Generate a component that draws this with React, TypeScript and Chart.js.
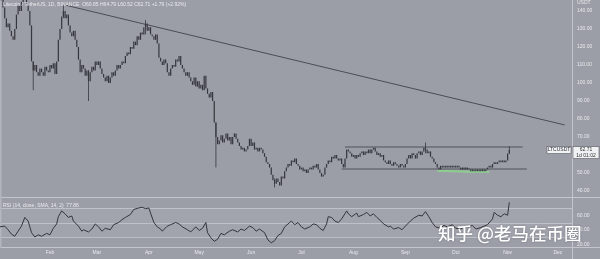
import { useEffect, useRef } from 'react';
import { Chart, registerables } from 'chart.js';

Chart.register(...registerables);

const FONT = '"Liberation Sans", Arial, sans-serif';
const BG = '#9b9ea7';
const CANDLE = '#35373d';
const LIGHT_TEXT = '#e9eaed';

// ---- data ----
const FIRST_DAY = 1; // day index of first candle (Jan 2, 2022)
const FIRST_OPEN = 148;
const closes = [
  146, 147, 142, 136, 131, 133, 129, 126, 124, 130,
  138, 143, 140, 145, 148, 147, 144, 140, 132, 112,
  107, 110, 106, 104, 108, 106, 104, 109, 107, 106,
  110, 108, 111, 105, 112, 124, 130, 137, 140, 136,
  138, 132, 128, 126, 129, 124, 120, 113, 106, 110,
  108, 104, 107, 101, 106, 109, 107, 112, 110, 112,
  108, 105, 103, 101, 104, 100, 103, 106, 104, 107,
  110, 108, 110, 112, 111, 115, 117, 116, 120, 119,
  123, 121, 126, 124, 128, 127, 131, 133, 129, 131,
  127, 126, 124, 127, 122, 114, 112, 110, 113, 111,
  106, 104, 108, 110, 109, 113, 112, 115, 110, 108,
  106, 104, 106, 103, 101, 99, 103, 98, 101, 97,
  99, 96, 104, 97, 94, 92, 95, 90, 78, 70,
  66, 68, 71, 67, 69, 72, 68, 70, 66, 70,
  72, 69, 67, 65, 63, 64, 62, 63, 65, 69,
  65, 67, 63, 64, 62, 64, 63, 61, 59, 56,
  55, 53, 49, 46, 44, 47, 45, 43, 48, 47,
  51, 53, 55, 54, 57, 56, 58, 55, 54, 52,
  53, 51, 52, 50, 52, 53, 52, 54, 53, 55,
  52, 50, 48, 49, 53, 55, 57, 56, 59, 58,
  60, 58, 57, 58, 55, 53, 58, 63, 62, 61,
  59, 60, 58, 60, 59, 61, 62, 60, 62, 61,
  63, 61, 63, 64, 62, 60, 61, 59, 60, 57,
  56, 55, 57, 55, 54, 56, 55, 54, 53, 55,
  54, 53, 55, 58, 60, 58, 61, 60, 58, 61,
  62, 60, 62, 64, 63, 61, 62, 59, 58, 56,
  55, 53, 52, 54, 53, 54, 53, 54, 53, 54,
  53, 54, 53, 54, 53, 52, 53, 52, 53, 52,
  52, 51, 52, 51, 52, 51, 52, 51, 52, 51,
  52, 53, 54, 53, 55, 56, 55, 56, 57, 56,
  57, 56, 57, 60.85, 62.71,
];

const wickDays = [21, 39, 54, 88, 130, 165, 255, 305];
const wickLows = [96, 136, 90, 127, 53, 42, 61, 60.5];
const wickHighs = [112, 143, 107, 135, 78, 47, 67, 64.8];

const trendDays = [40, 338];
const trendPrices = [143.3, 76.7];
const channelTopDays = [207, 313];
const channelTopPrices = [64.4, 64.4];
const channelBottomDays = [205, 315.5];
const channelBottomPrices = [52.2, 52.2];
const greenDays = [262, 276, 293];
const greenPrices = [51.3, 50.8, 50.6];

const rsiDays = [
  1, 4, 6, 8, 10, 12, 14, 16, 18, 20,
  22, 24, 26, 29, 31, 33, 35, 36, 38, 40,
  42, 44, 45, 48, 50, 51, 54, 56, 58, 60,
  62, 64, 67, 69, 72, 74, 76, 79, 81, 84,
  86, 88, 90, 91, 93, 95, 97, 98, 101, 103,
  106, 108, 110, 113, 115, 118, 120, 122, 124, 125,
  127, 129, 131, 133, 135, 138, 140, 143, 145, 147,
  150, 152, 154, 156, 159, 161, 163, 165, 167, 169,
  171, 174, 175, 177, 179, 181, 183, 186, 188, 190,
  192, 194, 196, 197, 199, 201, 203, 205, 208, 209,
  211, 214, 215, 218, 220, 222, 224, 226, 228, 230,
  233, 234, 236, 239, 241, 243, 246, 248, 251, 253,
  255, 257, 259, 261, 264, 266, 268, 271, 273, 276,
  278, 280, 283, 285, 288, 290, 292, 295, 296, 298,
  300, 302, 304, 305,
];
const rsiValues = [
  44, 45, 40, 34, 31, 38, 45, 57, 52, 36,
  30, 33, 31, 35, 33, 42, 48, 58, 66, 62,
  57, 59, 52, 45, 38, 40, 37, 41, 48, 44,
  38, 42, 40, 47, 50, 54, 57, 61, 68, 70,
  71, 69, 70, 63, 50, 44, 41, 38, 45, 47,
  50, 48, 44, 40, 37, 44, 39, 42, 50, 36,
  29, 24, 27, 35, 33, 38, 40, 37, 41, 39,
  45, 43, 38, 41, 36, 26, 22, 25, 32, 35,
  44, 50, 52, 47, 50, 44, 41, 44, 48, 47,
  42, 39, 48, 58, 57, 52, 50, 55, 66, 62,
  58, 63, 58, 61, 64, 59, 62, 57, 53, 48,
  44, 45, 41, 43, 40, 45, 52, 56, 60, 59,
  65, 58, 50, 44, 42, 46, 44, 47, 42, 41,
  44, 43, 46, 41, 43, 45, 47, 55, 64, 60,
  58, 62, 60, 77.86,
];

const monthDays = [31, 59, 90, 120, 151, 181, 212, 243, 273, 304, 334];
const monthLabels = ['Feb', 'Mar', 'Apr', 'May', 'Jun', 'Jul', 'Aug', 'Sep', 'Oct', 'Nov', 'Dec'];
const priceTicks = [40, 50, 60, 70, 80, 90, 100, 110, 120, 130, 140];
const rsiTicks = [20, 40, 60];
const rsiBands = [70, 50, 30];
const lastPrice = 62.71;
const lastRsi = 77.86;

const legendText = 'Litecoin / TetherUS, 1D, BINANCE  O60.85 H64.79 L60.52 C62.71 +1.79 (+2.92%)';
const rsiLabel = 'RSI (14, close, SMA, 14, 2)  ' + lastRsi.toFixed(2);
const symbolLabel = 'LTCUSDT';
const countdownLabel = '1d 01:02';
const currencyLabel = 'USDT';
const watermark = '知乎 @老马在币圈';

const pts = (xs: number[], ys: number[]) => xs.map((x, i) => ({ x, y: ys[i] }));

const panePlugin = {
  id: 'panes',
  beforeDraw(chart: any) {
    const { ctx, width, height } = chart;
    ctx.save();
    ctx.fillStyle = BG;
    ctx.fillRect(0, 0, width, height);
    ctx.restore();
  },
  beforeDatasetsDraw(chart: any) {
    const { ctx, chartArea, width } = chart;
    const y = chart.scales.y;
    const yr = chart.scales.yr;
    ctx.save();
    const t70 = yr.getPixelForValue(rsiBands[0]);
    const b30 = yr.getPixelForValue(rsiBands[2]);
    ctx.fillStyle = 'rgba(255,255,255,0.07)';
    ctx.fillRect(chartArea.left, t70, chartArea.right - chartArea.left, b30 - t70);
    ctx.strokeStyle = 'rgba(215,217,222,0.55)';
    ctx.lineWidth = 1;
    for (const v of rsiBands) {
      const py = Math.round(yr.getPixelForValue(v)) + 0.5;
      ctx.beginPath();
      ctx.moveTo(chartArea.left, py);
      ctx.lineTo(chartArea.right, py);
      ctx.stroke();
    }
    ctx.strokeStyle = '#c3c6cc';
    ctx.beginPath();
    const d1 = Math.round(y.bottom) + 0.5;
    ctx.moveTo(0, d1);
    ctx.lineTo(width, d1);
    const d2 = Math.round(chartArea.bottom) - 0.5;
    ctx.moveTo(0, d2);
    ctx.lineTo(width, d2);
    const vx = Math.round(chartArea.right) + 0.5;
    ctx.moveTo(vx, 0);
    ctx.lineTo(vx, chart.height);
    ctx.stroke();
    ctx.fillStyle = '#b3b6bd';
    ctx.fillRect(0, 0, 1.5, chartArea.bottom);
    ctx.restore();
  },
  afterDraw(chart: any) {
    const { ctx, chartArea } = chart;
    const y = chart.scales.y;
    ctx.save();
    ctx.textBaseline = 'middle';
    ctx.textAlign = 'left';
    ctx.font = `5px ${FONT}`;
    ctx.fillStyle = LIGHT_TEXT;
    ctx.fillText(legendText, 3, 4.5);
    ctx.fillText(rsiLabel, 3, y.bottom + 8.5);
    ctx.fillText(currencyLabel, chartArea.right + 5, 3);

    const py = y.getPixelForValue(lastPrice);
    ctx.fillStyle = '#f1f2f4';
    ctx.strokeStyle = '#55585f';
    ctx.lineWidth = 0.6;
    ctx.fillRect(chartArea.right - 25, py - 3.5, 24, 7);
    ctx.strokeRect(chartArea.right - 25, py - 3.5, 24, 7);
    ctx.fillRect(chartArea.right + 1, py - 3.5, 26, 12);
    ctx.strokeRect(chartArea.right + 1, py - 3.5, 26, 12);
    ctx.fillStyle = '#2c2e33';
    ctx.textAlign = 'center';
    ctx.fillText(symbolLabel, chartArea.right - 13, py);
    ctx.fillText(lastPrice.toFixed(2), chartArea.right + 14, py);
    ctx.fillText(countdownLabel, chartArea.right + 14, py + 5.5);

    ctx.textAlign = 'left';
    ctx.font = `500 17.5px "Noto Sans CJK SC", sans-serif`;
    ctx.shadowColor = 'rgba(60,60,70,0.45)';
    ctx.shadowBlur = 2;
    ctx.fillStyle = '#ffffff';
    ctx.fillText(watermark, 438, 233);
    ctx.restore();
  },
};

export default function App() {
  const ref = useRef<HTMLCanvasElement | null>(null);

  useEffect(() => {
    if (!ref.current) return;
    const opens = closes.map((c, i) => (i === 0 ? FIRST_OPEN : closes[i - 1]));
    const bodies = closes.map((c, i) => ({ x: FIRST_DAY + i, y: [opens[i], c] }));
    const wicks = wickDays.map((d, i) => ({ x: d, y: [wickLows[i], wickHighs[i]] }));

    const tickFont = { size: 5, family: FONT };

    const chart = new Chart(ref.current, {
      type: 'bar',
      data: {
        datasets: [
          {
            type: 'bar',
            data: wicks as any,
            xAxisID: 'x',
            yAxisID: 'y',
            backgroundColor: CANDLE,
            grouped: false,
            maxBarThickness: 0.8,
            borderWidth: 0,
          } as any,
          {
            type: 'bar',
            data: bodies as any,
            xAxisID: 'x',
            yAxisID: 'y',
            backgroundColor: CANDLE,
            grouped: false,
            maxBarThickness: 1.3,
            minBarLength: 0.8,
            borderWidth: 0,
          } as any,
          {
            type: 'line',
            data: pts(trendDays, trendPrices),
            xAxisID: 'x',
            yAxisID: 'y',
            borderColor: '#4a4d55',
            borderWidth: 1,
            pointRadius: 0,
          },
          {
            type: 'line',
            data: pts(channelTopDays, channelTopPrices),
            xAxisID: 'x',
            yAxisID: 'y',
            borderColor: '#686b73',
            borderWidth: 1.5,
            pointRadius: 0,
          },
          {
            type: 'line',
            data: pts(channelBottomDays, channelBottomPrices),
            xAxisID: 'x',
            yAxisID: 'y',
            borderColor: '#686b73',
            borderWidth: 1.5,
            pointRadius: 0,
          },
          {
            type: 'line',
            data: pts(greenDays, greenPrices),
            xAxisID: 'x',
            yAxisID: 'y',
            borderColor: 'rgba(140,214,140,0.85)',
            borderWidth: 2,
            pointRadius: 0,
            tension: 0.4,
          },
          {
            type: 'line',
            data: pts(rsiDays, rsiValues),
            xAxisID: 'x',
            yAxisID: 'yr',
            borderColor: '#34363c',
            borderWidth: 1,
            pointRadius: 0,
          },
        ] as any,
      },
      options: {
        responsive: false,
        devicePixelRatio: 1,
        animation: false,
        events: [],
        layout: { padding: 0 },
        plugins: { legend: { display: false }, tooltip: { enabled: false } },
        scales: {
          x: {
            type: 'linear',
            min: 1.2,
            max: 342.4,
            offset: false,
            grid: { display: false, drawTicks: false },
            border: { display: false },
            ticks: {
              color: LIGHT_TEXT,
              font: tickFont,
              padding: 2,
              maxRotation: 0,
              autoSkip: false,
              callback: (v: any) => {
                const i = monthDays.indexOf(Number(v));
                return i >= 0 ? monthLabels[i] : '';
              },
            },
            afterBuildTicks: (s: any) => {
              s.ticks = monthDays.map((v) => ({ value: v }));
            },
            afterFit: (s: any) => {
              s.height = 11;
              s.paddingLeft = 0;
              s.paddingRight = 0;
            },
          },
          y: {
            type: 'linear',
            position: 'right',
            stack: 'panes',
            stackWeight: 197,
            weight: 0,
            min: 36.667,
            max: 146.111,
            grid: { display: false, drawTicks: false },
            border: { display: false },
            ticks: {
              color: LIGHT_TEXT,
              font: tickFont,
              padding: 5,
              autoSkip: false,
              callback: (v: any) => Number(v).toFixed(2),
            },
            afterBuildTicks: (s: any) => {
              s.ticks = priceTicks.map((v) => ({ value: v }));
            },
            afterFit: (s: any) => {
              s.width = 28;
              s.paddingTop = 0;
              s.paddingBottom = 0;
            },
          },
          yr: {
            type: 'linear',
            position: 'right',
            stack: 'panes',
            stackWeight: 51,
            weight: 1,
            min: 14.83,
            max: 85.17,
            grid: { display: false, drawTicks: false },
            border: { display: false },
            ticks: {
              color: LIGHT_TEXT,
              font: tickFont,
              padding: 5,
              autoSkip: false,
              callback: (v: any) => Number(v).toFixed(2),
            },
            afterBuildTicks: (s: any) => {
              s.ticks = rsiTicks.map((v) => ({ value: v }));
            },
            afterFit: (s: any) => {
              s.width = 28;
              s.paddingTop = 0;
              s.paddingBottom = 0;
            },
          },
        } as any,
      },
      plugins: [panePlugin],
    });
    return () => chart.destroy();
  }, []);

  return (
    <div style={{ position: 'fixed', left: 0, top: 0, width: 600, height: 259, background: BG }}>
      <canvas ref={ref} width={600} height={259} style={{ display: 'block' }} />
    </div>
  );
}
